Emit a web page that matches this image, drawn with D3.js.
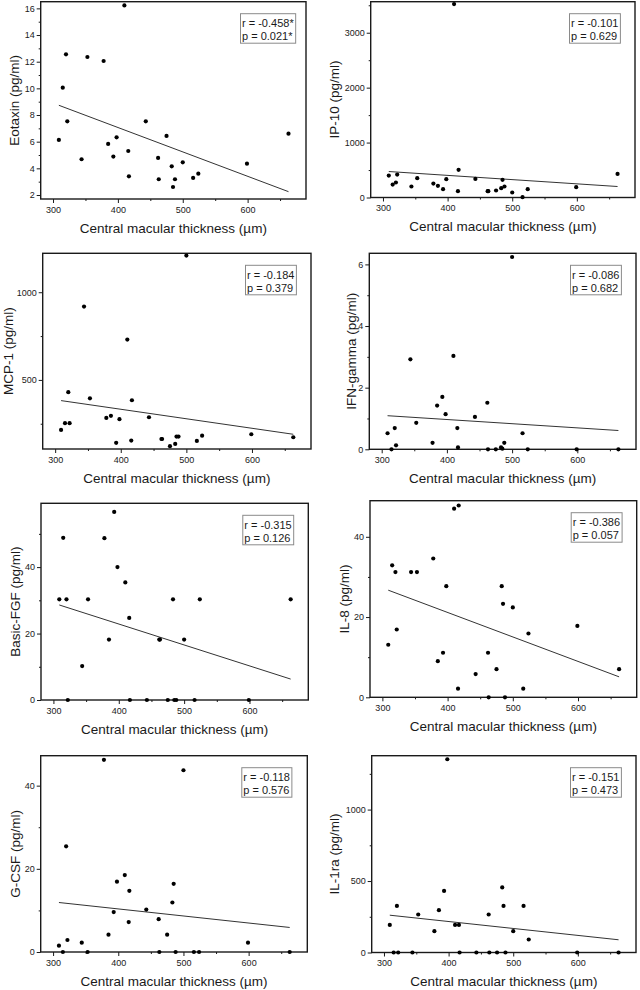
<!DOCTYPE html>
<html><head><meta charset="utf-8">
<script src="https://cdn.jsdelivr.net/npm/d3@7"></script>
<style>
body{margin:0;background:#fff}
svg{display:block}
text{font-family:"Liberation Sans",Arial,Helvetica,sans-serif;fill:#1a1a1a}
</style>
</head><body><svg id="chart" width="640" height="990"></svg>
<script>
// ---- data ----
const thickness = [309, 315, 320, 322, 344, 353, 378, 385, 393, 398, 410, 416, 417, 443, 462, 463, 475, 483, 485, 488, 500, 516, 524, 599, 663];
const yTitles = ["Eotaxin (pg/ml)", "IP-10 (pg/ml)", "MCP-1 (pg/ml)", "IFN-gamma (pg/ml)", "Basic-FGF (pg/ml)", "IL-8 (pg/ml)", "G-CSF (pg/ml)", "IL-1ra (pg/ml)"];
const xTitle = "Central macular thickness (µm)";
const eotaxin = [6.13, 10.05, 12.55, 7.53, 4.68, 12.35, 12.05, 5.83, 4.88, 6.33, 16.22, 5.3, 3.4, 7.53, 4.78, 3.18, 6.43, 4.15, 2.6, 3.18, 4.45, 3.28, 3.6, 4.35, 6.6];
const ip10 = [400, 236, 273, 418, 200, 351, 254, 212, 151, 333, 3521, 115, 503, 339, 115, 115, 127, 170, 321, 200, 91, 6, 151, 188, 430];
const mcp1 = [215, 253, 430, 253, 918, 395, 283, 295, 141, 276, 730, 154, 384, 287, 163, 163, 122, 135, 177, 177, 1209, 152, 182, 190, 173];
const ifnGamma = [0.52, 0, 0.69, 0.13, 2.92, 0.86, 0.21, 1.42, 1.70, 1.14, 3.03, 0.69, 0.06, 1.05, 1.51, 0, 0, 0.06, 0.02, 0.21, 6.24, 0.52, 0, 0, 0];
const basicFgf = [30.3, 48.8, 30.3, 0, 10.2, 30.3, 48.7, 18.2, 56.6, 40, 35.4, 24.7, 0, 0, 18.2, 18.2, 0, 30.3, 0, 0, 18.2, 0, 30.3, 0, 30.3];
const il8 = [13.1, 32.9, 31.2, 16.9, 31.2, 31.2, 34.6, 9.0, 11.1, 27.7, 47.0, 2.16, 47.8, 5.8, 11.1, 0, 7.0, 27.7, 23.3, 0, 22.4, 2.16, 15.9, 17.8, 7.0];
const gcsf = [1.52, 0, 25.4, 2.89, 2.24, 0, 46.2, 4.17, 9.6, 16.9, 18.5, 7.2, 14.7, 10.2, 7.9, 0, 4.17, 11.9, 16.4, 0, 43.7, 0, 0, 2.24, 0];
const il1ra = [193, 0, 326, 0, 0, 266, 149, 296, 431, 1352, 193, 193, 0, 0, 266, 0, 0, 455, 326, 0, 149, 326, 91, 0, 0];
const seriesValues = [eotaxin, ip10, mcp1, ifnGamma, basicFgf, il8, gcsf, il1ra];
const rLabels = ["r = -0.458*", "r = -0.101", "r = -0.184", "r = -0.086", "r = -0.315", "r = -0.386", "r = -0.118", "r = -0.151"];
const pLabels = ["p = 0.021*", "p = 0.629", "p = 0.379", "p = 0.682", "p = 0.126", "p = 0.057", "p = 0.576", "p = 0.473"];
// fitted line values at min and max thickness
const fitStart = [8.73, 473, 382, 1.09, 28.6, 26.7, 11.9, 261];
const fitEnd = [2.25, 200, 190, 0.61, 6.3, 5.1, 5.9, 89];
const yDomains = [[1.7, 16.5], [0, 3565], [106, 1222], [0, 6.36], [0, 59.2], [0, 49], [0, 47.2], [0, 1377]];
const yMajorTicks = [[2, 4, 6, 8, 10, 12, 14, 16], [0, 1000, 2000, 3000], [500, 1000], [0, 2, 4, 6], [0, 20, 40], [0, 20, 40], [0, 20, 40], [0, 500, 1000]];
const yMinorTicks = [[3, 5, 7, 9, 11, 13, 15], [500, 1500, 2500, 3500], [250, 750], [1, 3, 5], [10, 30, 50], [10, 30], [10, 30], [250, 750, 1250]];
const xDomain = [281, 690];
const xMajorTicks = [300, 400, 500, 600];
const xMinorTicks = [350, 450, 550, 650];

// ---- layout (plot frames: left, right, top, bottom; y-title x centre) ----
const frames = [
  {l: 40.7, r: 306, t: 1.7, b: 199, yt: 14.5},
  {l: 370.7, r: 635, t: 1.7, b: 197.5, yt: 334.5},
  {l: 42.7, r: 311, t: 253.3, b: 449, yt: 8},
  {l: 369.3, r: 636, t: 253.3, b: 449.3, yt: 351},
  {l: 41, r: 308.3, t: 503.3, b: 700, yt: 15.5},
  {l: 370, r: 636.7, t: 500.7, b: 697.3, yt: 344.5},
  {l: 40.7, r: 307.3, t: 755.7, b: 952, yt: 15.5},
  {l: 371.7, r: 636, t: 755.7, b: 952.5, yt: 334.5}
];

const svg = d3.select("#chart");
const xExt = d3.extent(thickness);

frames.forEach((f, i) => {
  const g = svg.append("g");
  const x = d3.scaleLinear().domain(xDomain).range([f.l, f.r]);
  const y = d3.scaleLinear().domain(yDomains[i]).range([f.b, f.t]);

  // x axis major
  const gx = g.append("g").attr("transform", `translate(0,${f.b})`)
    .call(d3.axisBottom(x).tickValues(xMajorTicks).tickSize(4).tickPadding(3.5).tickFormat(d3.format("d")));
  g.append("g").attr("transform", `translate(0,${f.b})`)
    .call(d3.axisBottom(x).tickValues(xMinorTicks).tickSize(2).tickFormat(""));
  const gy = g.append("g").attr("transform", `translate(${f.l},0)`)
    .call(d3.axisLeft(y).tickValues(yMajorTicks[i]).tickSize(4).tickPadding(2).tickFormat(d3.format("d")));
  g.append("g").attr("transform", `translate(${f.l},0)`)
    .call(d3.axisLeft(y).tickValues(yMinorTicks[i]).tickSize(2).tickFormat(""));
  g.selectAll(".domain").remove();
  g.selectAll(".tick line").attr("stroke", "#1a1a1a").attr("stroke-width", 1);
  g.selectAll(".tick text").attr("font-size", 9).attr("fill", "#1a1a1a")
    .attr("font-family", '"Liberation Sans",Arial,sans-serif');

  // frame
  g.append("rect").attr("x", f.l).attr("y", f.t).attr("width", f.r - f.l).attr("height", f.b - f.t)
    .attr("fill", "none").attr("stroke", "#1a1a1a").attr("stroke-width", 1.4);

  // fit line
  g.append("line")
    .attr("x1", x(xExt[0])).attr("y1", y(fitStart[i]))
    .attr("x2", x(xExt[1])).attr("y2", y(fitEnd[i]))
    .attr("stroke", "#333").attr("stroke-width", 1);

  // points
  g.selectAll("circle.pt").data(seriesValues[i]).join("circle")
    .attr("class", "pt")
    .attr("cx", (d, j) => x(thickness[j]))
    .attr("cy", d => y(d))
    .attr("r", 2.1).attr("fill", "#000");

  // titles
  g.append("text").attr("x", (f.l + f.r) / 2).attr("y", f.b + 33.5)
    .attr("text-anchor", "middle").attr("font-size", 13.5).text(xTitle);
  g.append("text")
    .attr("transform", `translate(${f.yt},${(f.t + f.b) / 2}) rotate(-90)`)
    .attr("text-anchor", "middle").attr("dy", "0.35em").attr("font-size", 13.5).text(yTitles[i]);

  // stats box
  const bx = f.r - 65.5, by = f.t + 12;
  const box = g.append("rect").attr("x", bx).attr("y", by).attr("height", 29.5)
    .attr("fill", "#fff").attr("stroke", "#8a8a8a").attr("stroke-width", 1);
  const t1 = g.append("text").attr("x", bx + 1.5).attr("y", by + 13.2).attr("font-size", 11).text(rLabels[i]);
  const t2 = g.append("text").attr("x", bx + 1.5).attr("y", by + 26.5).attr("font-size", 11).text(pLabels[i]);
  const w = Math.max(t1.node().getComputedTextLength(), t2.node().getComputedTextLength());
  box.attr("width", w + 3.5);
});
</script>
</body></html>
